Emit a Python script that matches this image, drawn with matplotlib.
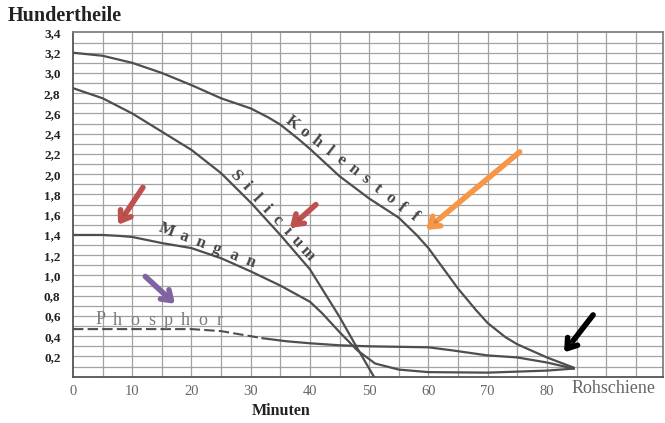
import matplotlib.pyplot as plt
import matplotlib.patheffects as pe
import numpy as np

# curve data (minutes, Hundertheile)
kohle_x = [0, 5, 10, 15, 20, 25, 30, 33, 35, 38, 40, 45, 50, 55, 58, 60, 63, 65, 68, 70, 73, 75, 80, 84.5]
kohle_y = [3.20, 3.17, 3.10, 3.00, 2.88, 2.75, 2.65, 2.56, 2.49, 2.35, 2.25, 1.98, 1.76, 1.57, 1.40, 1.27, 1.03, 0.87, 0.66, 0.53, 0.39, 0.32, 0.19, 0.09]

sili_x = [0, 5, 10, 15, 20, 25, 30, 35, 40, 45, 48, 50.8]
sili_y = [2.85, 2.75, 2.60, 2.42, 2.24, 2.01, 1.72, 1.40, 1.06, 0.59, 0.28, 0.0]

mang_x = [0, 5, 8, 10, 15, 20, 25, 30, 35, 40, 42, 45, 48, 51, 55, 60, 70, 80, 84.5]
mang_y = [1.40, 1.40, 1.39, 1.38, 1.32, 1.27, 1.17, 1.04, 0.90, 0.74, 0.63, 0.44, 0.26, 0.13, 0.07, 0.045, 0.04, 0.06, 0.08]

phos_x = [0, 10, 20, 25, 28, 32, 36, 40, 45, 50, 60, 64, 70, 75, 80, 84.5]
phos_y = [0.47, 0.47, 0.47, 0.45, 0.42, 0.38, 0.35, 0.33, 0.31, 0.30, 0.29, 0.26, 0.21, 0.19, 0.14, 0.08]

x_ticks = [0, 10, 20, 30, 40, 50, 60, 70, 80]
y_ticks = [0.2, 0.4, 0.6, 0.8, 1.0, 1.2, 1.4, 1.6, 1.8, 2.0, 2.2, 2.4, 2.6, 2.8, 3.0, 3.2, 3.4]

# curve names: text, first letter, last letter (data coords)
names = [
    ('Kohlenstoff', (37.0, 2.51), (57.6, 1.58), 12, 'bold', '#444444'),
    ('Silicium', (27.4, 1.99), (39.6, 1.22), 12, 'bold', '#444444'),
    ('Mangan', (15.8, 1.45), (29.9, 1.13), 12, 'bold', '#444444'),
    ('Phosphor', (4.6, 0.56), (24.8, 0.55), 13, 'normal', '#7a7a7a'),
]

serif = 'Liberation Serif'
ink = '#4e4e4e'

fig = plt.figure(figsize=(6.65, 4.23), dpi=100)
ax = fig.add_axes([0.1098, 0.1095, 0.8872, 0.8137])
ax.set_xlim(0, 99.6)
ax.set_ylim(0, 3.4)

# grid: every 5 minutes and every 0,1
for gx in np.arange(5, 100, 5):
    ax.axvline(gx, color='#a2a2a2', lw=0.9, zorder=1)
for gy in np.arange(0.1, 3.4, 0.1):
    ax.axhline(gy, color='#a2a2a2', lw=0.9, zorder=1)

for s in ax.spines.values():
    s.set_color('#808080')
    s.set_linewidth(1.3)
ax.spines['left'].set_color('#555555')
ax.spines['bottom'].set_color('#555555')

# curves
ax.plot(kohle_x, kohle_y, color=ink, lw=1.6, zorder=3)
ax.plot(sili_x, sili_y, color=ink, lw=1.6, zorder=3)
ax.plot(mang_x, mang_y, color=ink, lw=1.6, zorder=3)
ax.plot(phos_x[:6], phos_y[:6], color=ink, lw=1.5, ls=(0, (5, 2)), zorder=3)
ax.plot(phos_x[5:], phos_y[5:], color=ink, lw=1.6, zorder=3)

# letter-spaced labels along the curves
fig.canvas.draw()
for word, p0, p1, size, weight, col in names:
    a = ax.transData.transform(p0)
    b = ax.transData.transform(p1)
    ang = np.degrees(np.arctan2(b[1] - a[1], b[0] - a[0]))
    n = len(word)
    for i, ch in enumerate(word):
        t = i / (n - 1)
        pos = ax.transData.inverted().transform(a + t * (b - a))
        ax.text(pos[0], pos[1], ch, rotation=ang, rotation_mode='anchor',
                ha='center', va='center', family=serif, fontsize=size,
                fontweight=weight, color=col, zorder=4)

# ticks
ax.set_xticks(x_ticks)
ax.set_xticklabels([str(v) for v in x_ticks], family=serif, fontsize=10.5, color='#666666')
ax.set_yticks(y_ticks)
ax.set_yticklabels([('%.1f' % v).replace('.', ',') for v in y_ticks],
                   family=serif, fontsize=9.5, fontweight='bold', color='#222222')
ax.tick_params(length=0, pad=6)
ax.tick_params(axis='y', pad=9)

ax.text(91.2, -0.12, 'Rohschiene', ha='center', va='center', family=serif,
        fontsize=13, color='#666666')
ax.set_xlabel('Minuten', family=serif, fontsize=11.5, fontweight='bold', color='#222222')
ax.xaxis.set_label_coords(0.352, -0.076)
fig.text(0.012, 0.962, 'Hundertheile', family=serif, fontsize=14.5, fontweight='bold',
         color='#222222', ha='left', va='center')

# coloured arrows added on top of the scan
arrows = [
    ((11.8, 1.87), (7.6, 1.50), '#c0504d'),
    ((41.0, 1.70), (36.6, 1.47), '#c0504d'),
    ((75.4, 2.22), (59.6, 1.45), '#f79646'),
    ((12.2, 0.99), (17.2, 0.72), '#8064a2'),
    ((87.8, 0.61), (82.9, 0.24), 'black'),
]
for tail, head, col in arrows:
    an = ax.annotate('', xy=head, xytext=tail,
                     arrowprops=dict(arrowstyle='->,head_length=0.65,head_width=0.45',
                                     color=col, lw=4, shrinkA=0, shrinkB=0),
                     zorder=6)
    an.arrow_patch.set_path_effects([pe.SimplePatchShadow(offset=(1.5, -1.5), alpha=0.25), pe.Normal()])

plt.savefig('out.png', dpi=100)
